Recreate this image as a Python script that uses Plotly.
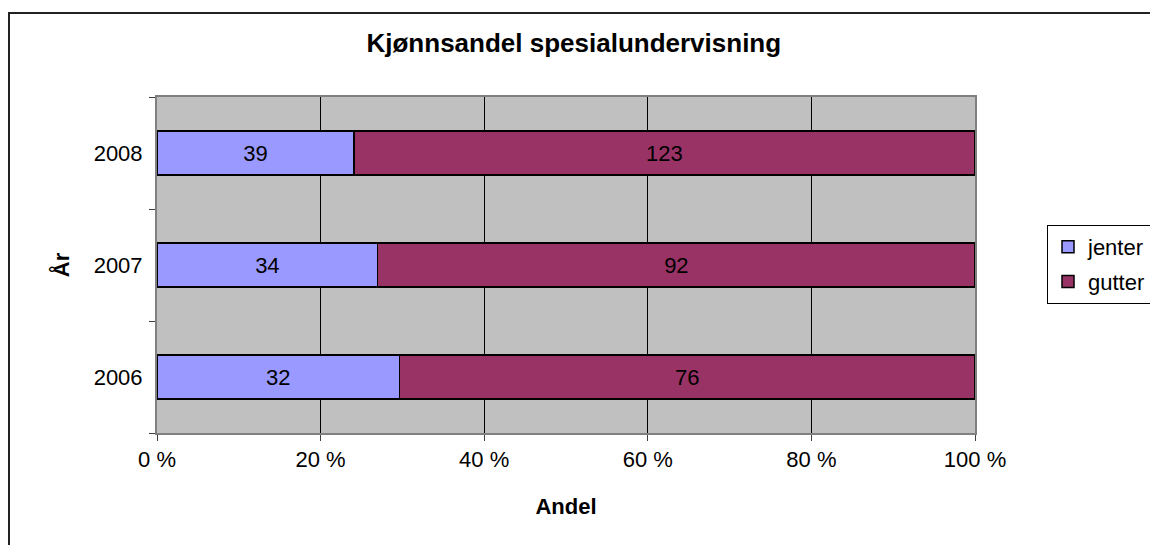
import plotly.graph_objects as go

years = ["2006", "2007", "2008"]
jenter = [32, 34, 39]
gutter = [76, 92, 123]
x_ticks = [0, 20, 40, 60, 80, 100]
x_tick_labels = ["0 %", "20 %", "40 %", "60 %", "80 %", "100 %"]

FONT = "Liberation Sans, Arial, sans-serif"
FS = 22

fig = go.Figure()
fig.add_trace(go.Bar(
    y=years, x=jenter, name="jenter", orientation="h",
    marker=dict(color="#9999FF", line=dict(color="black", width=1.5)),
    text=[str(v) for v in jenter], textposition="inside",
    insidetextanchor="middle", textangle=0,
    textfont=dict(family=FONT, size=FS, color="black"),
    legendgroup="a", hoverinfo="skip",
))
fig.add_trace(go.Bar(
    y=years, x=gutter, name="gutter", orientation="h",
    marker=dict(color="#993366", line=dict(color="black", width=1.5)),
    text=[str(v) for v in gutter], textposition="inside",
    insidetextanchor="middle", textangle=0,
    textfont=dict(family=FONT, size=FS, color="black"),
    legendgroup="b", hoverinfo="skip",
))

fig.update_layout(
    template="none",
    width=1150, height=545,
    margin=dict(l=157, r=175, t=97, b=112, autoexpand=False),
    barmode="stack", barnorm="percent", bargap=0.607,
    paper_bgcolor="white", plot_bgcolor="#C0C0C0",
    font=dict(family=FONT, size=FS, color="black"),
    title=dict(text="<b>Kjønnsandel spesialundervisning</b>",
               x=586 / 1150, xanchor="center", xref="paper",
               y=1 - 43 / 545, yanchor="middle", yref="container",
               automargin=False,
               font=dict(family=FONT, size=26, color="black")),
    showlegend=True,
    legend=dict(x=(1047 - 157) / 818, xanchor="left",
                y=(433 - 225) / 336, yanchor="top",
                bordercolor="black", borderwidth=1, bgcolor="white",
                traceorder="grouped", tracegroupgap=3,
                font=dict(family=FONT, size=FS, color="black"),
                itemwidth=30),
    shapes=[dict(type="rect", xref="paper", yref="paper",
                 x0=(9 - 157) / 818, x1=(1160 - 157) / 818,
                 y0=(433 - 560) / 336, y1=(433 - 13) / 336,
                 line=dict(color="#222222", width=2), fillcolor="rgba(0,0,0,0)",
                 layer="below")],
)

fig.update_xaxes(
    range=[0, 100], tickvals=x_ticks, ticktext=x_tick_labels,
    showgrid=True, gridcolor="black", gridwidth=1,
    showline=True, linecolor="#808080", linewidth=2, mirror=True,
    ticks="outside", ticklen=6, tickcolor="#404040",
    tickfont=dict(family=FONT, size=FS, color="black"),
    title=dict(text="<b>Andel</b>", standoff=27,
               font=dict(family=FONT, size=FS, color="black")),
    zeroline=False, fixedrange=True, automargin=False,
)
fig.update_yaxes(
    type="category", tickson="boundaries",
    showgrid=False,
    showline=True, linecolor="#808080", linewidth=2, mirror=True,
    ticks="outside", ticklen=6, tickcolor="#404040",
    tickfont=dict(family=FONT, size=FS, color="black"),
    ticklabelstandoff=8,
    title=dict(text="<b>År</b>", standoff=18,
               font=dict(family=FONT, size=FS, color="black")),
    fixedrange=True, automargin=False,
)

fig.write_html(
    "out.html",
    config={"displayModeBar": False},
    post_script="document.body.style.margin='0';document.body.style.overflow='hidden';",
)
